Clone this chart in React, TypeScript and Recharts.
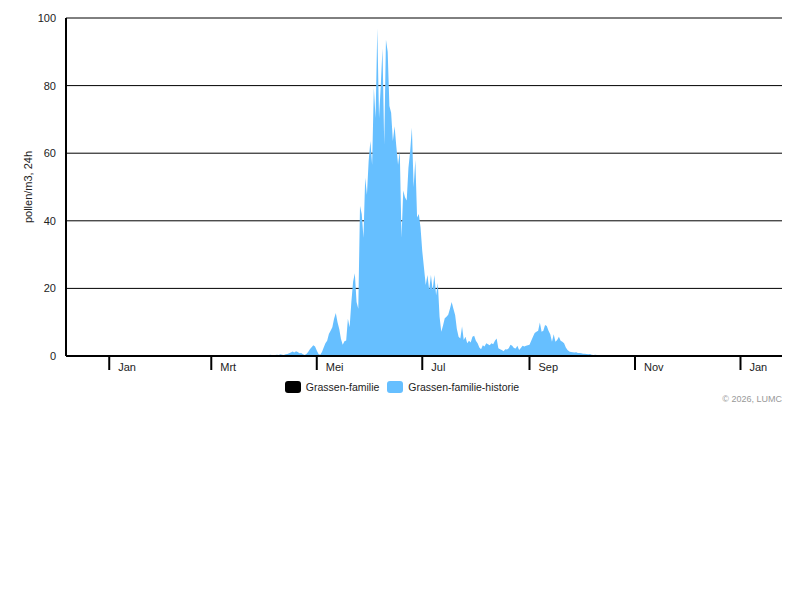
import React from 'react';
import { AreaChart, Area, XAxis, YAxis, CartesianGrid, Legend, Label } from 'recharts';

// daily values, day 0 = 1 januari
const startDay = 30;
const historie = [
  0, 0, 0, 0.1, 0.1, 0, 0, 0, 0, 0, // 30
  0, 0, 0, 0, 0, 0, 0, 0, 0, 0, // 40
  0, 0, 0.1, 0.1, 0, 0, 0, 0, 0, 0, // 50
  0, 0, 0, 0, 0, 0, 0.1, 0.1, 0, 0, // 60
  0, 0, 0.1, 0.1, 0, 0.1, 0.2, 0.1, 0.2, 0.1, // 70
  0.2, 0.3, 0.2, 0.1, 0.2, 0.3, 0.2, 0.1, 0.2, 0.3, // 80
  0.2, 0.3, 0.2, 0.4, 0.3, 0.2, 0.3, 0.4, 0.3, 0.5, // 90
  0.4, 0.3, 0.5, 0.6, 0.8, 1.0, 1.3, 1.0, 1.4, 1.2, // 100
  0.8, 0.9, 0.5, 0.3, 0.6, 1.2, 2.0, 2.6, 3.2, 2.8, // 110
  1.6, 0.6, 0.4, 1.2, 2.5, 3.8, 4.5, 6.5, 7.5, 8.5, // 120
  11, 12.7, 10, 8, 5, 3.3, 4.4, 4.6, 11, 8.5, // 130
  16, 22, 24.5, 16, 14, 44.4, 42, 35, 52.7, 47.7, // 140
  57.7, 63.6, 56.6, 79.3, 70.4, 97, 70.4, 80, 91, 62.5, // 150
  93.6, 90, 74, 72, 63.6, 68, 62, 56.6, 60.6, 35, // 160
  49, 47, 46, 55.6, 60.6, 67.5, 50, 58, 41, 42, // 170
  38, 31, 26, 21, 24, 19.5, 24, 19.5, 24, 18, // 180
  21.6, 11.6, 7.2, 9, 11.2, 11.6, 12.2, 14, 16, 14, // 190
  12.1, 8, 5.7, 5.2, 8.7, 4.7, 5.7, 3.8, 4.5, 4, // 200
  5.7, 6, 4.5, 3.8, 2.5, 2, 3.2, 2.8, 3.8, 3.5, // 210
  3.2, 3.8, 3.5, 4.5, 5.2, 2.3, 2, 1.8, 1.4, 2, // 220
  1.9, 2.3, 3.3, 3, 2.4, 2.2, 3, 1.8, 2.4, 3, // 230
  2.8, 3, 3.2, 3.3, 4.5, 5.7, 6.8, 7.2, 7.5, 9.9, // 240
  7.2, 7.5, 9.2, 8.9, 7.5, 6.4, 4.2, 6.4, 4.2, 4.7, // 250
  5.7, 4.5, 4.2, 3.8, 2.5, 1.8, 1.3, 1.2, 1.1, 1.0, // 260
  1.1, 0.9, 0.9, 0.8, 0.7, 0.7, 0.6, 0.5, 0.6, 0.4, // 270
  0.3, 0.4, 0.3, 0.2, 0.3, 0.2, 0.3, 0.2, 0.1, 0.2, // 280
  0.3, 0.2, 0.1, 0.2, 0.2, 0.1, 0.2, 0.1, 0.1, 0.2, // 290
  0.1, 0.2, 0.1, 0.1, 0.2, 0.1, 0, 0.1, 0.1, 0.2, // 300
  0.1, 0.1, 0, 0.1, 0.2, 0.1, 0.1, 0, 0.1, 0.1, // 310
  0.2, 0.1, 0.1, 0, 0.1, 0.1, 0, 0.1, 0.2, 0.1, // 320
  0, 0.1, 0.1, 0.1, 0, 0.1, 0.1, 0, 0, 0.1, // 330
  0.1, 0, 0.1, 0.1, 0, 0, 0.1, 0, 0, 0.1, // 340
  0.1, 0, 0, 0, 0, 0, // 350
];
// current season: nothing measured yet
const familie: number[] = [];

const monthTicks = [0, 59, 120, 181, 243, 304, 365];
const monthLabels = ['Jan', 'Mrt', 'Mei', 'Jul', 'Sep', 'Nov', 'Jan'];
const yTicks = [0, 20, 40, 60, 80, 100];

const series = [
  { key: 'familie', name: 'Grassen-familie', color: '#000000' },
  { key: 'historie', name: 'Grassen-familie-historie', color: '#66bfff' },
];

const data = historie.map((v, i) => ({
  day: startDay + i,
  historie: v,
  familie: familie[i],
}));

const font = '"Liberation Sans", Arial, sans-serif';

const MonthTick = (props: any) => {
  const { x, y, payload } = props;
  const label = monthLabels[monthTicks.indexOf(payload.value)];
  return (
    <g>
      <line x1={x} x2={x} y1={y} y2={y + 14} stroke="#000" strokeWidth={2} />
      <text x={x + 9} y={y + 15} fontSize={11} fill="#222">{label}</text>
    </g>
  );
};

const renderLegend = () => (
  <div style={{ display: 'flex', justifyContent: 'center', gap: 8, paddingLeft: 4, fontSize: 10.5, color: '#222' }}>
    {series.map((s) => (
      <div key={s.key} style={{ display: 'flex', alignItems: 'center' }}>
        <span style={{ width: 16, height: 12, borderRadius: 3, background: s.color, marginRight: 5 }} />
        {s.name}
      </div>
    ))}
  </div>
);

const App = () => {
  return (
    <div style={{ position: 'absolute', left: 0, top: 0, width: 800, height: 600, background: '#fff', fontFamily: font }}>
      <AreaChart width={800} height={420} data={data} margin={{ top: 18, right: 18, left: 0, bottom: 40 }}>
        <CartesianGrid vertical={false} stroke="#000" />
        <XAxis
          dataKey="day"
          type="number"
          domain={[-25, 389]}
          ticks={monthTicks}
          interval={0}
          tick={<MonthTick />}
          tickLine={false}
          tickSize={0}
          tickMargin={0}
          height={24}
          axisLine={{ stroke: '#000', strokeWidth: 2 }}
        />
        <YAxis
          domain={[0, 100]}
          ticks={yTicks}
          width={66}
          tickLine={false}
          tickSize={0}
          tickMargin={10}
          tick={{ fontSize: 11, fill: '#222' }}
          axisLine={{ stroke: '#000', strokeWidth: 2 }}
        >
          <Label
            content={({ viewBox }: any) => {
              const cy = viewBox.y + viewBox.height / 2;
              return (
                <text x={28} y={cy} transform={`rotate(-90, 28, ${cy})`} textAnchor="middle" dominantBaseline="central" fontSize={11} fill="#222">
                  pollen/m3, 24h
                </text>
              );
            }}
          />
        </YAxis>
        <Area type="linear" dataKey="historie" name="Grassen-familie-historie" stroke="none" fill="#66bfff" fillOpacity={1} isAnimationActive={false} />
        <Area type="linear" dataKey="familie" name="Grassen-familie" stroke="#000" fill="#000" fillOpacity={1} isAnimationActive={false} />
        <Legend
          verticalAlign="middle"
          align="center"
          content={renderLegend}
          wrapperStyle={{ top: 381, left: 0, width: 800 }}
        />
      </AreaChart>
      <div style={{ position: 'absolute', right: 18, top: 394, fontSize: 9, color: '#999' }}>© 2026, LUMC</div>
    </div>
  );
};

export default App;
